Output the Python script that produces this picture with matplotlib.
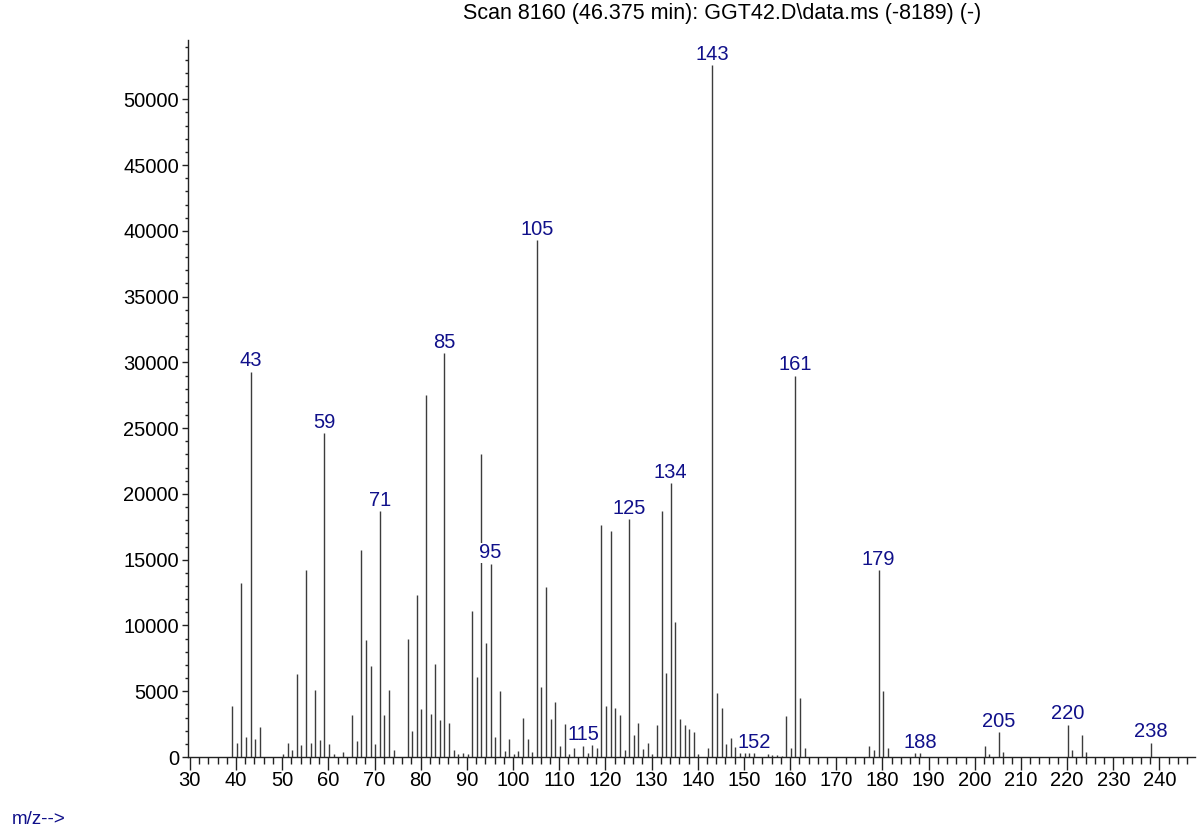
import numpy as np
import matplotlib
matplotlib.use("Agg")
import matplotlib.pyplot as plt
from matplotlib import font_manager
from matplotlib.ticker import MultipleLocator

# the instrument printout uses a tall, narrow sans face
names = {f.name for f in font_manager.fontManager.ttflist}
if "Liberation Sans Narrow" in names:
    plt.rcParams['font.family'] = ['Liberation Sans Narrow', 'DejaVu Sans']
    fs = 17
    fs_title = 17
else:
    plt.rcParams['font.family'] = ['Liberation Sans', 'DejaVu Sans']
    fs = 14.5
    fs_title = 15.5

# m/z values and their abundances
mz = [39, 40, 41, 42, 43, 44, 45, 50, 51, 52, 53, 54, 55, 56, 57, 58, 59, 60, 61, 63,
      65, 66, 67, 68, 69, 70, 71, 72, 73, 74, 77, 78, 79, 80, 81, 82, 83, 84, 85, 86,
      87, 88, 89, 90, 91, 92, 93, 94, 95, 96, 97, 98, 99, 100, 101, 102, 103, 104, 105, 106,
      107, 108, 109, 110, 111, 112, 113, 115, 116, 117, 118, 119, 120, 121, 122, 123, 124, 125, 126, 127,
      128, 129, 130, 131, 132, 133, 134, 135, 136, 137, 138, 139, 140, 142, 143, 144, 145, 146, 147, 148,
      149, 150, 151, 152, 155, 156, 157, 158, 159, 160, 161, 162, 163, 177, 178, 179, 180, 181, 187, 188,
      202, 203, 205, 206, 220, 221, 223, 224, 238]
abundance = [3900, 1100, 13200, 1500, 29300, 1400, 2300, 250, 1100, 500, 6300, 900, 14200, 1100, 5100, 1300, 24600, 1000, 250, 350,
             3200, 1200, 15700, 8900, 6900, 1000, 18700, 3200, 5100, 500, 9000, 1950, 12300, 3650, 27500, 3300, 7100, 2800, 30700, 2600,
             500, 200, 300, 200, 11100, 6100, 23000, 8700, 14700, 1500, 5000, 450, 1400, 250, 450, 2950, 1350, 350, 39300, 5300,
             12900, 2900, 4200, 850, 2500, 250, 650, 850, 300, 900, 650, 17600, 3900, 17200, 3750, 3200, 500, 18100, 1700, 2600,
             600, 1050, 200, 2400, 18700, 6400, 20800, 10300, 2900, 2450, 2150, 1900, 200, 700, 52600, 4850, 3750, 1000, 1450, 750,
             300, 300, 300, 300, 200, 150, 150, 100, 3100, 700, 29000, 4500, 650, 800, 500, 14200, 5000, 700, 300, 300,
             850, 250, 1900, 400, 2450, 500, 1700, 350, 1100]

# peaks that carry a label
labeled = [43, 59, 71, 85, 95, 105, 115, 125, 134, 143, 152, 161, 179, 188, 205, 220, 238]

title = "Scan 8160 (46.375 min): GGT42.D\\data.ms (-8189) (-)"
navy = "#10108a"

mz = np.array(mz)
abundance = np.array(abundance)
xpos = mz + 0.15  # centroid masses sit a bit right of the integer

fig = plt.figure(figsize=(11.99, 8.35), dpi=100)
ax = fig.add_axes([0.1568, 0.0934, 0.8399, 0.8586])

ax.vlines(xpos, 0, abundance, color="#3c3c3c", linewidth=1.0)

for m in labeled:
    i = int(np.where(mz == m)[0][0])
    ax.annotate(str(m), (xpos[i], abundance[i]), xytext=(0, 1.0), textcoords="offset points",
                ha="center", va="bottom", color=navy, fontsize=fs,
                bbox=dict(facecolor="white", edgecolor="none", pad=0.3))

ax.set_xlim(29.6, 247.7)
ax.set_ylim(0, 54500)

for s in ["top", "right"]:
    ax.spines[s].set_visible(False)
for s in ["left", "bottom"]:
    ax.spines[s].set_color("#222222")
    ax.spines[s].set_linewidth(1.0)

ax.xaxis.set_major_locator(MultipleLocator(10))
ax.xaxis.set_minor_locator(MultipleLocator(2))
ax.yaxis.set_major_locator(MultipleLocator(5000))
ax.yaxis.set_minor_locator(MultipleLocator(1000))
ax.tick_params(axis="x", which="major", length=9.5, width=1, pad=0.5, labelsize=fs, color="#222222")
ax.tick_params(axis="x", which="minor", length=5, width=1, color="#222222")
ax.tick_params(axis="y", which="major", length=4.5, width=1, pad=2, labelsize=fs, color="#222222")
ax.tick_params(axis="y", which="minor", length=2.5, width=1, color="#222222")

fig.text(722 / 1199, 1 - 13 / 835, title, ha="center", va="center", fontsize=fs_title)
fig.text(12 / 1199, 1 - 820 / 835, "m/z-->", ha="left", va="center", fontsize=fs - 1, color=navy)

fig.savefig("out.png", dpi=100)
